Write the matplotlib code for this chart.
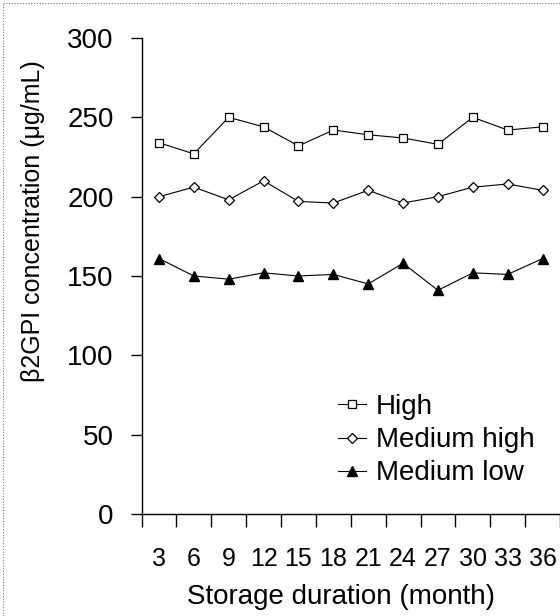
import numpy as np
import matplotlib
matplotlib.use("Agg")
import matplotlib.pyplot as plt
from matplotlib.lines import Line2D
from matplotlib import font_manager

plt.rcParams['font.family'] = ['Liberation Sans', 'DejaVu Sans']

months = [3, 6, 9, 12, 15, 18, 21, 24, 27, 30, 33, 36]
high = [234, 227, 250, 244, 232, 242, 239, 237, 233, 250, 242, 244]
medium_high = [200, 206, 198, 210, 197, 196, 204, 196, 200, 206, 208, 204]
medium_low = [161, 150, 148, 152, 150, 151, 145, 158, 141, 152, 151, 161]

# narrow face for the month numbers, if present
names = {f.name for f in font_manager.fontManager.ttflist}
tick_family = 'Liberation Sans Narrow' if 'Liberation Sans Narrow' in names else 'Liberation Sans'

fig = plt.figure(figsize=(5.6, 6.16), dpi=100)
ax = fig.add_axes([141.5 / 560, 102 / 616, 418.5 / 560, 476 / 616])

x = np.arange(len(months))
ax.plot(x, high, color='black', lw=0.8, marker='s', ms=6,
        mfc='white', mec='black', mew=0.9, label='High')
ax.plot(x, medium_high, color='black', lw=0.8, marker='D', ms=5,
        mfc='white', mec='black', mew=0.9, label='Medium high')
ax.plot(x, medium_low, color='black', lw=0.8, marker='^', ms=7,
        mfc='black', mec='black', label='Medium low')

ax.set_xlim(-0.5, -0.5 + 418.5 / 35)
ax.set_ylim(0, 300)
ax.set_yticks(np.arange(0, 301, 50))

# month labels sit between the ticks
ax.set_xticks(x)
ax.set_xticklabels([str(m) for m in months], fontsize=18, family=tick_family)
ax.set_xticks(np.arange(-0.5, 12, 1), minor=True)
ax.tick_params(axis='x', which='major', length=0, pad=24)
ax.tick_params(axis='x', which='minor', length=9, width=1, direction='out')
ax.tick_params(axis='y', length=8, width=1, direction='out', pad=12, labelsize=20)

for side in ['top', 'right']:
    ax.spines[side].set_visible(False)
for side in ['left', 'bottom']:
    ax.spines[side].set_linewidth(1)

ax.set_xlabel('Storage duration (month)', fontsize=20)
ax.xaxis.label.set_va('baseline')
ax.xaxis.set_label_coords(0.477, -0.19)
ax.set_ylabel('\u03b22GPI concentration (\u03bcg/mL)', fontsize=18)
ax.yaxis.set_label_coords(-0.23, 0.615)

ax.legend(loc='upper left', bbox_to_anchor=(338 / 560, 1 - 394 / 616),
          bbox_transform=fig.transFigure, frameon=False, fontsize=20,
          handlelength=1.0, handletextpad=0.35, labelspacing=0.26,
          borderpad=0, borderaxespad=0)

# dotted frame along the top and left edges
fig.add_artist(Line2D([3 / 560, 3 / 560], [0, 1 - 3 / 616], transform=fig.transFigure,
                      color='#777777', lw=0.8, ls=(0, (1, 1.5))))
fig.add_artist(Line2D([3 / 560, 1], [1 - 3 / 616, 1 - 3 / 616], transform=fig.transFigure,
                      color='#777777', lw=0.8, ls=(0, (1, 1.5))))

fig.savefig('out.png', dpi=100)
